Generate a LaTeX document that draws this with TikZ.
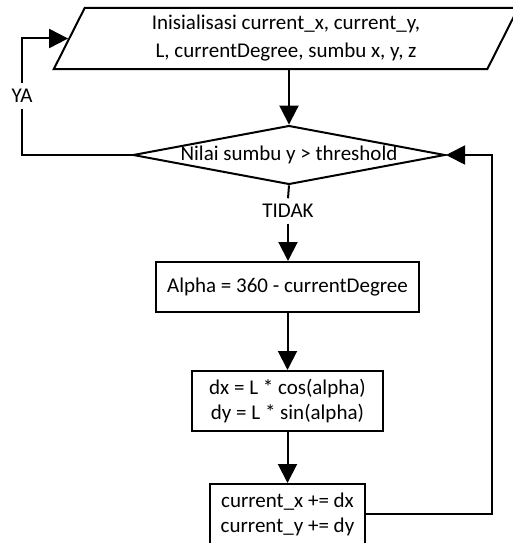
\documentclass[tikz,border=0pt]{standalone}
\usepackage{fontspec}
\setmainfont{Carlito}
\usetikzlibrary{shapes.geometric,arrows.meta}

\tikzset{every picture/.style={line width=2pt}}
\tikzset{
  flowbox/.style={draw, rectangle, align=center, inner sep=0pt, font=\fontsize{21}{25}\selectfont},
  flowarrow/.style={-{Triangle[length=19pt,width=19pt]}},
  flowlabel/.style={inner sep=5pt, font=\fontsize{21}{25}\selectfont},
}

\begin{document}
\begin{tikzpicture}[x=1pt,y=1pt,yscale=-1,xscale=1]
\useasboundingbox (0,0) rectangle (513,543);

%Shape: Parallelogram [id:init]
\node [draw, trapezium, trapezium left angle=66, trapezium right angle=114, trapezium stretches=true,
  minimum width=466pt, minimum height=61pt, inner sep=0pt, align=center,
  font=\fontsize{21}{28}\selectfont] (init) at (286,38.5)
  {Inisialisasi current\_x, current\_y,\\L, currentDegree, sumbu x, y, z};
%Shape: Diamond [id:cek]
\node [draw, diamond, aspect=5.3, minimum width=308pt, minimum height=58pt, inner sep=0pt,
  font=\fontsize{21}{25}\selectfont] (cek) at (289,155) {Nilai sumbu y > threshold};
%Shape: Rectangle [id:alpha]
\node [flowbox, minimum width=263pt, minimum height=50pt] (alpha) at (287.5,287) {Alpha = 360 - currentDegree};
%Shape: Rectangle [id:delta]
\node [flowbox, minimum width=191pt, minimum height=60pt] (delta) at (287.5,401) {dx = L * cos(alpha)\\dy = L * sin(alpha)};
%Shape: Rectangle [id:update]
\node [flowbox, minimum width=155pt, minimum height=60pt] (update) at (287.5,514) {current\_x += dx\\current\_y += dy};

% Text Node
\node [flowlabel] (tidak) at (288,211) {TIDAK};
% Text Node
\node [flowlabel] (ya) at (22,96) {YA};
\coordinate (balik) at (492,514);

%Straight Lines
\draw [flowarrow] (init.south -| cek.north) -- (cek.north);
\draw (cek.south) -- (tidak.north);
\draw [flowarrow] (tidak.south) -- (tidak.south |- alpha.north);
\draw [flowarrow] (alpha.south) -- (delta.north);
\draw [flowarrow] (delta.south) -- (update.north);
%Loop YA
\draw (cek.west) -| (ya.south);
\draw [flowarrow] (ya.north) |- (init.west);
%Loop kembali
\draw [flowarrow] (update.east) -- (balik) |- (cek.east);

\end{tikzpicture}
\end{document}
